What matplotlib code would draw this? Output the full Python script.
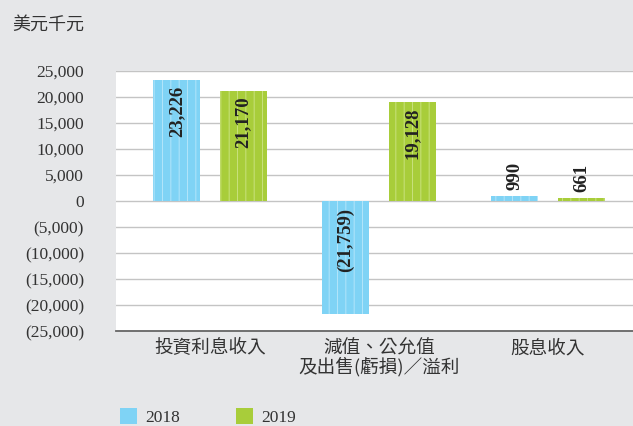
import matplotlib.pyplot as plt
import matplotlib.ticker as mticker
import numpy as np

categories = ['投資利息收入', '減值、公允值\n及出售(虧損)／溢利', '股息收入']
years = ['2018', '2019']
values_2018 = [23226, -21759, 990]
values_2019 = [21170, 19128, 661]
yticks = [25000, 20000, 15000, 10000, 5000, 0, -5000, -10000, -15000, -20000, -25000]

plt.rcParams['hatch.linewidth'] = 0.7
serif = ['Liberation Serif', 'DejaVu Serif']
cjk = ['Noto Sans CJK TC', 'DejaVu Sans']

bg = '#e6e7e9'
fig = plt.figure(figsize=(6.33, 4.26), dpi=100, facecolor=bg)
ax = fig.add_axes([116 / 633, 1 - 331 / 426, 1 - 116 / 633, 260 / 426])
ax.set_facecolor('white')

x = np.arange(len(categories))
w = 0.278
off = 0.198
series = [
    (values_2018, '#7fd3f5', '#b3e5fa', -off),
    (values_2019, '#a8cd3a', '#c9e17e', off),
]
for (vals, col, stripe, dx), yr in zip(series, years):
    bars = ax.bar(x + dx, vals, w, color=col, edgecolor=stripe, linewidth=0,
                  hatch='||', label=yr, zorder=3)
    for b, v in zip(bars, vals):
        txt = f'{abs(v):,}' if v >= 0 else f'({abs(v):,})'
        cx = b.get_x() + b.get_width() / 2
        if v >= 5000:
            ax.annotate(txt, (cx, v), xytext=(0, -4), textcoords='offset points',
                        rotation=90, ha='center', va='top', fontsize=13.5,
                        fontweight='bold', family=serif, color='#222222', zorder=4)
        elif v < 0:
            ax.annotate(txt, (cx, 0), xytext=(0, -5), textcoords='offset points',
                        rotation=90, ha='center', va='top', fontsize=13.5,
                        fontweight='bold', family=serif, color='#222222', zorder=4)
        else:
            ax.annotate(txt, (cx, v), xytext=(0, 4), textcoords='offset points',
                        rotation=90, ha='center', va='bottom', fontsize=13.5,
                        fontweight='bold', family=serif, color='#222222', zorder=4)

ax.set_xlim(-0.556, 2.503)
ax.set_ylim(-25000, 25000)
ax.set_yticks(yticks)
ax.yaxis.set_major_formatter(mticker.FuncFormatter(
    lambda v, p: f'{int(v):,}' if v >= 0 else f'({int(-v):,})'))
ax.grid(axis='y', color='#c4c4c4', linewidth=1, zorder=1)
ax.tick_params(axis='y', length=0, pad=23, labelsize=12.5, labelcolor='#333333')
for t in ax.get_yticklabels():
    t.set_family(serif)
    t.set_horizontalalignment('right')
ax.set_xticks(x)
ax.set_xticklabels(categories, family=cjk, fontsize=13.4, color='#333333', linespacing=1.0)
ax.tick_params(axis='x', length=0, pad=6)
for s in ['top', 'left', 'right']:
    ax.spines[s].set_visible(False)
ax.spines['bottom'].set_color('#666666')
ax.spines['bottom'].set_linewidth(1.3)

fig.text(12 / 633, 1 - 25 / 426, '美元千元', family=cjk, fontsize=13,
         color='#333333', va='center', ha='left')

leg = fig.legend(loc='center left', bbox_to_anchor=(120 / 633, 1 - 417 / 426), ncol=2,
                 frameon=False, prop={'family': serif, 'size': 12.5}, borderpad=0,
                 borderaxespad=0, handlelength=1.0, handleheight=1.0,
                 handletextpad=0.46, columnspacing=3.2)
for t in leg.get_texts():
    t.set_color('#333333')
for h in leg.legend_handles:
    h.set_hatch(None)

fig.savefig('out.png', dpi=100, facecolor=bg)
